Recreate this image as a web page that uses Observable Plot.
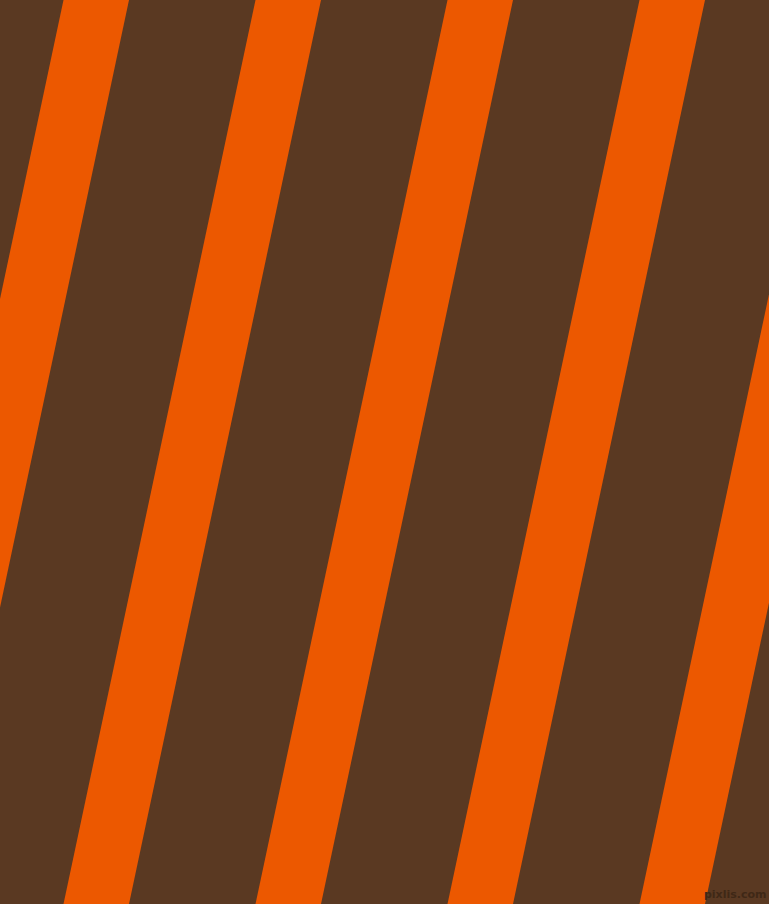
<!DOCTYPE html>
<html>
<head>
<meta charset="utf-8">
<script src="https://cdn.jsdelivr.net/npm/d3@7"></script>
<script src="https://cdn.jsdelivr.net/npm/@observablehq/plot@0.6"></script>
<style>
  html, body { margin: 0; padding: 0; background: #5A3922; overflow: hidden; }
  #chart svg { display: block; }
</style>
</head>
<body>
<div id="chart"></div>
<script>
// Stripe data (pattern units = pixels of the 769x904 picture)
const stripeIds = ["s0", "s1", "s2", "s3", "s4", "s5"];
const stripeTopLeft = [-128.5, 63.5, 255.5, 447.5, 639.5, 831.5]; // left edge at top
const stripeWidth = [65.5, 65.5, 65.5, 65.5, 65.5, 65.5];
const stripeDrift = [192, 192, 192, 192, 192, 192]; // leftward shift from top to bottom
const yLevels = [0, 904];
const watermark = ["pixlis.com"];

const W = 769, H = 904;
const rows = [];
stripeIds.forEach((id, i) => {
  yLevels.forEach((y, j) => {
    const shift = j === 0 ? 0 : stripeDrift[i];
    rows.push({id, y, x1: stripeTopLeft[i] - shift, x2: stripeTopLeft[i] + stripeWidth[i] - shift});
  });
});

const chart = Plot.plot({
  width: W,
  height: H,
  margin: 0,
  x: {domain: [0, W], range: [0, W], axis: null},
  y: {domain: [0, H], range: [0, H], axis: null},
  style: {background: "#5A3922"},
  marks: [
    Plot.areaX(rows, {y: "y", x1: "x1", x2: "x2", z: "id", fill: "#EC5800", clip: true}),
    Plot.text(watermark, {frameAnchor: "bottom-right", dx: -3, dy: -7, fill: "#3F2816", fontSize: 11, fontFamily: "DejaVu Sans", fontWeight: "bold"})
  ]
});
document.getElementById("chart").appendChild(chart);
</script>
</body>
</html>
